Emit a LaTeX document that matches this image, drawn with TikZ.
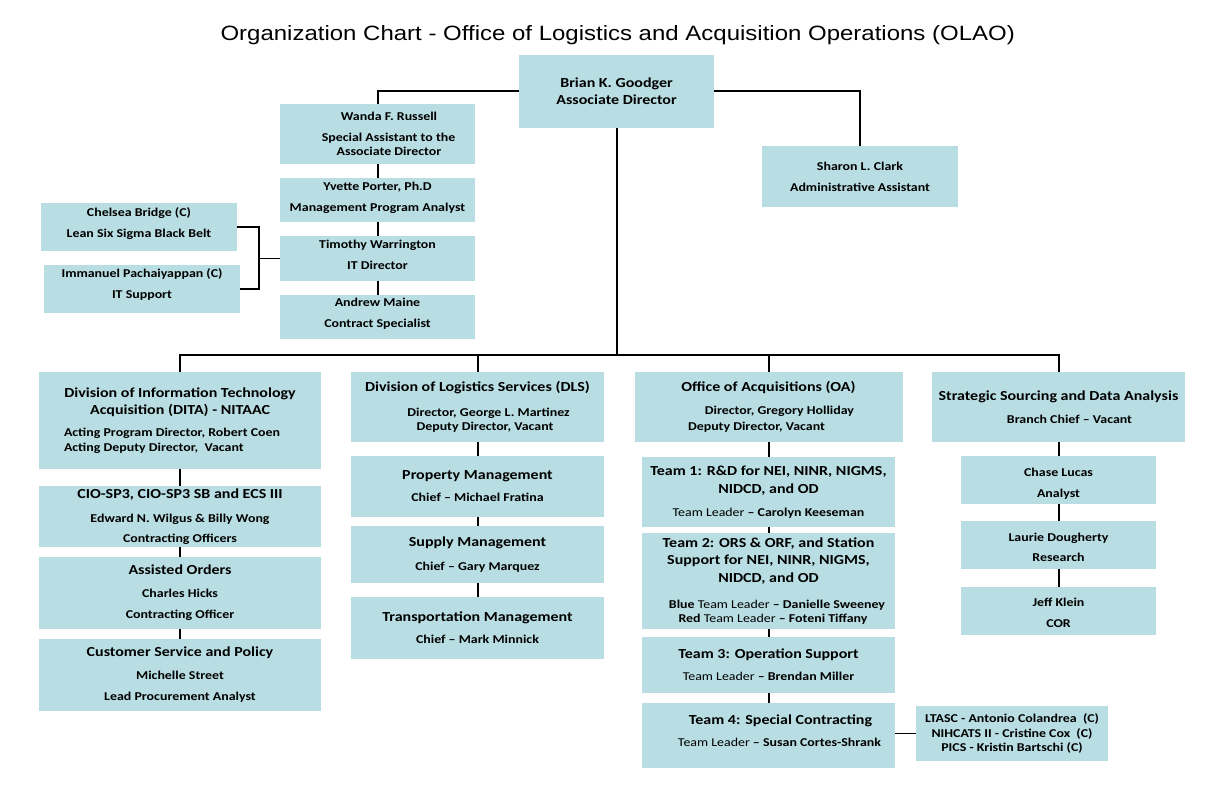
\documentclass[tikz,border=0pt]{standalone}
\usepackage{fontspec}
\setmainfont{Carlito}[FakeStretch=1.159]
\newfontfamily\titlef{Liberation Sans}[FakeStretch=1.159]
\newcommand\bigf{\fontsize{13.8}{17.5}\selectfont\bfseries}
\newcommand\smf{\fontsize{12}{14.5}\selectfont\bfseries}
\newcommand\sh[1]{\hspace*{#1}}
\definecolor{boxc}{RGB}{184,221,226}
\tikzset{
  box/.style={fill=boxc, inner sep=0pt, align=center, font=\smf},
  conn/.style={draw=black, line width=2pt},
  thinconn/.style={draw=black, line width=1.2pt}
}
\begin{document}
\begin{tikzpicture}[x=1pt,y=-1pt]
\path[use as bounding box] (0,0) rectangle (1224,792);

\node[anchor=base, font=\titlef\fontsize{20.7}{24}\selectfont] (title) at (617.7,41)
  {Organization Chart - Office of Logistics and Acquisition Operations (OLAO)};

% top group
\node[box, font=\bigf, minimum width=195, minimum height=73] (brian) at (616.5,91.5)
  {Brian K. Goodger\\[-0.5pt]Associate Director};
\node[box, minimum width=195, minimum height=60] (wanda) at (377.5,134)
  {\sh{23pt}Wanda F. Russell\\[6.5pt]\sh{22pt}Special Assistant to the\\\sh{23pt}Associate Director};
\node[box, minimum width=195, minimum height=44, text height=26pt, text depth=3pt] (yvette) at (377.5,200)
  {Yvette Porter, Ph.D\\[6.5pt]Management Program Analyst};
\node[box, minimum width=195, minimum height=45, text height=25pt, text depth=3pt] (timothy) at (377.5,258.5)
  {Timothy Warrington\\[6.5pt]IT Director};
\node[box, minimum width=195, minimum height=44, text height=24pt, text depth=3pt] (andrew) at (377.5,317)
  {Andrew Maine\\[6.5pt]Contract Specialist};
\node[box, minimum width=196, minimum height=48, text height=24pt, text depth=3pt] (chelsea) at (139,227)
  {Chelsea Bridge (C)\\[6.5pt]Lean Six Sigma Black Belt};
\node[box, minimum width=196, minimum height=48, text height=22pt, text depth=3pt] (immanuel) at (142,289)
  {Immanuel Pachaiyappan (C)\\[6.5pt]IT Support};
\node[box, minimum width=196, minimum height=61] (sharon) at (860,176.5)
  {Sharon L. Clark\\[6.5pt]Administrative Assistant};

% DITA column
\node[box, minimum width=282, minimum height=97] (dita) at (180,420.5)
  {{\bigf Division of Information Technology}\\[3pt]{\bigf Acquisition (DITA) - NITAAC}\\[7.5pt]%
   \makebox[232pt][l]{Acting Program Director, Robert Coen}\\\makebox[232pt][l]{Acting Deputy Director,~~Vacant}};
\node[box, minimum width=282, minimum height=61] (cio) at (180,516.5)
  {{\bigf CIO-SP3, CIO-SP3 SB and ECS III}\\[9.5pt]Edward N. Wilgus \& Billy Wong\\[5.5pt]Contracting Officers};
\node[box, minimum width=282, minimum height=72] (assisted) at (180,593)
  {{\bigf Assisted Orders}\\[8.5pt]Charles Hicks\\[6.5pt]Contracting Officer};
\node[box, minimum width=282, minimum height=72] (customer) at (180,675)
  {{\bigf Customer Service and Policy}\\[8.5pt]Michelle Street\\[6.5pt]Lead Procurement Analyst};

% DLS column
\node[box, minimum width=253, minimum height=70] (dls) at (477.5,407)
  {{\bigf Division of Logistics Services (DLS)}\\[10.5pt]\sh{22pt}Director, George L. Martinez\\\sh{15pt}Deputy Director, Vacant};
\node[box, minimum width=253, minimum height=61] (property) at (477.5,486.5)
  {{\bigf Property Management}\\[7.5pt]Chief – Michael Fratina};
\node[box, minimum width=253, minimum height=57] (supply) at (477.5,554.5)
  {{\bigf Supply Management}\\[9.5pt]Chief – Gary Marquez};
\node[box, minimum width=253, minimum height=62] (transport) at (477.5,628)
  {{\bigf Transportation Management}\\[7.5pt]Chief – Mark Minnick};

% OA column
\node[box, minimum width=268, minimum height=70] (oa) at (768.5,407)
  {{\bigf Office of Acquisitions (OA)}\\[8.5pt]\sh{22pt}Director, Gregory Holliday\\[1.5pt]\sh{-24pt}Deputy Director, Vacant};
\node[box, minimum width=253, minimum height=70] (team1) at (768.5,492)
  {{\bigf Team 1: R\&D for NEI, NINR, NIGMS,}\\[3pt]{\bigf NIDCD, and OD}\\[8.5pt]{\mdseries Team Leader} – Carolyn Keeseman};
\node[box, minimum width=253, minimum height=96] (team2) at (768.5,581)
  {{\bigf Team 2: ORS \& ORF, and Station}\\[3pt]{\bigf Support for NEI, NINR, NIGMS,}\\[3pt]{\bigf NIDCD, and OD}\\[11.5pt]%
   \sh{17pt}Blue {\mdseries Team Leader} – Danielle Sweeney\\\sh{9pt}Red {\mdseries Team Leader} – Foteni Tiffany};
\node[box, minimum width=253, minimum height=56] (team3) at (768.5,665)
  {{\bigf Team 3: Operation Support}\\[7.5pt]{\mdseries Team Leader} – Brendan Miller};
\node[box, minimum width=253, minimum height=65, text height=24pt, text depth=3pt] (team4) at (768.5,735.5)
  {\sh{24pt}{\bigf Team 4: Special Contracting}\\[7.5pt]\sh{22pt}{\mdseries Team Leader} – Susan Cortes-Shrank};
\node[box, minimum width=192, minimum height=55] (ltasc) at (1012,733.5)
  {LTASC - Antonio Colandrea~~(C)\\NIHCATS II - Cristine Cox~~(C)\\PICS - Kristin Bartschi (C)};

% SSDA column
\node[box, minimum width=253, minimum height=70] (ssda) at (1058.5,407)
  {{\bigf Strategic Sourcing and Data Analysis}\\[8.5pt]\sh{22pt}Branch Chief – Vacant};
\node[box, minimum width=195, minimum height=48, text height=38pt, text depth=3pt] (chase) at (1058.5,480)
  {Chase Lucas\\[6.5pt]Analyst};
\node[box, minimum width=195, minimum height=48, text height=36pt, text depth=3pt] (laurie) at (1058.5,545)
  {Laurie Dougherty\\[5.5pt]Research};
\node[box, minimum width=195, minimum height=48, text height=36pt, text depth=3pt] (jeff) at (1058.5,611)
  {Jeff Klein\\[6.5pt]COR};

% connectors
\coordinate (busy) at (0,354.5);
\coordinate (brk) at (259,258.5);
\draw[conn] (brian.west) -| (wanda.north);
\draw[conn] (brian.east) -| (sharon.north);
\draw[conn] (wanda) -- (yvette);
\draw[conn] (yvette) -- (timothy);
\draw[conn] (timothy) -- (andrew);
\draw[thinconn] (chelsea.east) -| (brk);
\draw[thinconn] (immanuel.east) -| (brk);
\draw[thinconn] (brk) -- (timothy.west);
\draw[conn] (brian.south) -- (brian.south |- busy);
\draw[conn] (dita.north) -- (dita.north |- busy) -- (ssda.north |- busy) -- (ssda.north);
\draw[conn] (dls.north) -- (dls.north |- busy);
\draw[conn] (oa.north) -- (oa.north |- busy);
\draw[conn] (dita) -- (cio);
\draw[conn] (cio) -- (assisted);
\draw[conn] (assisted) -- (customer);
\draw[conn] (dls) -- (property);
\draw[conn] (property) -- (supply);
\draw[conn] (supply) -- (transport);
\draw[conn] (oa) -- (team1);
\draw[conn] (team1) -- (team2);
\draw[conn] (team2) -- (team3);
\draw[conn] (team3) -- (team4);
\draw[conn] (ssda) -- (chase);
\draw[conn] (chase) -- (laurie);
\draw[conn] (laurie) -- (jeff);
\draw[thinconn] (team4.east |- ltasc.west) -- (ltasc.west);
\end{tikzpicture}
\end{document}
